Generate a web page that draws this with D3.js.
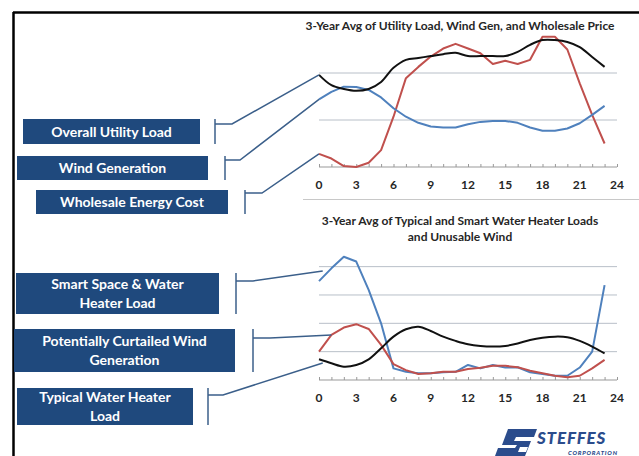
<!DOCTYPE html>
<html>
<head>
<meta charset="utf-8">
<script src="https://cdn.jsdelivr.net/npm/d3@7"></script>
<style>
  body { margin: 0; background: #fff; }
  svg { display: block; font-family: Lato, "Open Sans", sans-serif; }
  .tick-label { font-size: 12px; font-weight: bold; fill: #262626; }
  .title { font-size: 12px; font-weight: bold; fill: #262626; }
  .box-text { font-size: 14px; font-weight: bold; fill: #fff; }
</style>
</head>
<body>
<svg id="chart" width="639" height="456"></svg>
<script>
// hours of the day
const hours = [0,1,2,3,4,5,6,7,8,9,10,11,12,13,14,15,16,17,18,19,20,21,22,23];
const hourTicks = [0,3,6,9,12,15,18,21,24];

// top panel: utility load, wind generation, wholesale price
const utilityLoad = [1.96,1.74,1.66,1.62,1.66,1.81,2.11,2.28,2.32,2.36,2.40,2.43,2.36,2.36,2.36,2.36,2.45,2.60,2.70,2.70,2.66,2.55,2.34,2.13];
const windGen     = [1.44,1.60,1.71,1.70,1.64,1.48,1.25,1.07,0.94,0.86,0.84,0.84,0.91,0.96,0.98,0.98,0.94,0.84,0.77,0.77,0.82,0.93,1.11,1.30];
const wholesale   = [0.28,0.18,0.02,0.00,0.09,0.36,1.07,1.89,2.13,2.35,2.52,2.62,2.52,2.42,2.19,2.26,2.19,2.28,2.77,2.77,2.50,1.78,1.11,0.50];

// bottom panel: water heater loads and curtailed wind
const smartLoad   = [3.49,3.94,4.35,4.18,3.18,2.00,0.41,0.29,0.24,0.24,0.27,0.29,0.53,0.41,0.53,0.44,0.45,0.27,0.21,0.15,0.15,0.44,1.00,3.35];
const curtailed   = [1.00,1.59,1.85,1.97,1.80,1.24,0.56,0.35,0.21,0.24,0.29,0.29,0.39,0.43,0.50,0.50,0.45,0.33,0.24,0.15,0.10,0.15,0.41,0.71];
const typicalLoad = [0.73,0.59,0.47,0.53,0.73,1.12,1.53,1.79,1.88,1.73,1.53,1.38,1.26,1.20,1.18,1.20,1.29,1.41,1.49,1.53,1.51,1.38,1.18,0.94];

const topTitle = ["3-Year Avg of Utility Load, Wind Gen, and Wholesale Price"];
const bottomTitle = ["3-Year Avg of Typical and Smart Water Heater Loads", "and Unusable Wind"];

const topLabels = [["Overall Utility Load"], ["Wind Generation"], ["Wholesale Energy Cost"]];
const bottomLabels = [["Smart  Space & Water", "Heater Load"], ["Potentially Curtailed Wind", "Generation"], ["Typical Water Heater", "Load"]];

const BLACK = "#111", BLUE = "#4f81bd", RED = "#c0504d", NAVY = "#1f497d";

const svg = d3.select("#chart");

// frame
svg.append("line").attr("x1", 13).attr("x2", 639).attr("y1", 12.5).attr("y2", 12.5)
    .attr("stroke", "#000").attr("stroke-width", 2.5);
svg.append("line").attr("x1", 13.5).attr("x2", 13.5).attr("y1", 12).attr("y2", 456)
    .attr("stroke", "#000").attr("stroke-width", 2.5);

function drawPanel(opt) {
    const x = d3.scaleLinear().domain([0, 24]).range([319, 617]);
    const y = d3.scaleLinear().domain([0, opt.max]).range([opt.bottom, opt.top]);
    const g = svg.append("g");

    // gridlines
    g.selectAll(".grid").data(opt.grid).join("line")
        .attr("x1", x(0)).attr("x2", x(24))
        .attr("y1", d => y(d)).attr("y2", d => y(d))
        .attr("stroke", "#b8bfc8").attr("stroke-width", 1);

    // x axis
    const axis = g.append("g")
        .attr("transform", "translate(0," + opt.bottom + ")")
        .call(d3.axisBottom(x).ticks(24).tickSize(-3).tickFormat(""));
    axis.select(".domain").attr("stroke", "#999").attr("d", "M" + x(0) + ",0H" + x(24));
    axis.selectAll(".tick line").attr("stroke", "#999");

    g.selectAll(".tick-label").data(hourTicks).join("text")
        .attr("class", "tick-label")
        .attr("x", d => x(d)).attr("y", opt.bottom + 22)
        .attr("text-anchor", "middle")
        .text(d => d);

    // title
    g.selectAll(".title").data(opt.title).join("text")
        .attr("class", "title")
        .attr("x", 460).attr("y", (d, i) => opt.titleY + i * 16)
        .attr("text-anchor", "middle")
        .text(d => d);

    // series
    opt.series.forEach(s => {
        const line = d3.line()
            .x((d, i) => x(hours[i]))
            .y(d => y(d))
            .curve(s.smooth ? d3.curveCatmullRom.alpha(0.5) : d3.curveLinear);
        g.append("path").datum(s.values)
            .attr("fill", "none").attr("stroke", s.color)
            .attr("stroke-width", 2).attr("stroke-linejoin", "round")
            .attr("d", line);
    });

    // label boxes with bracket leaders
    opt.boxes.forEach((b, i) => {
        g.append("rect")
            .attr("x", b.x).attr("y", b.y).attr("width", b.w).attr("height", b.h)
            .attr("fill", NAVY);
        const lines = opt.labels[i];
        g.selectAll(null).data(lines).join("text")
            .attr("class", "box-text")
            .attr("x", b.x + b.w / 2)
            .attr("y", (d, j) => b.y + b.h / 2 + 5 + (j - (lines.length - 1) / 2) * 19)
            .attr("text-anchor", "middle")
            .text(d => d);

        const end = [x(b.end[0]), y(b.end[1])];
        g.append("line")
            .attr("x1", b.bx).attr("x2", b.bx).attr("y1", b.y).attr("y2", b.y + b.h)
            .attr("stroke", "#3b5f8a").attr("stroke-width", 1.5);
        g.append("path")
            .attr("d", "M" + b.bx + "," + b.hy + "L" + b.kx + "," + b.hy + "L" + end[0] + "," + end[1])
            .attr("fill", "none").attr("stroke", "#3b5f8a").attr("stroke-width", 1.5);
    });
}

drawPanel({
    max: 3, top: 26, bottom: 167, grid: [1, 2], title: topTitle, titleY: 30,
    series: [
        { values: wholesale, color: RED },
        { values: windGen, color: BLUE },
        { values: utilityLoad, color: BLACK, smooth: true }
    ],
    labels: topLabels,
    boxes: [
        { x: 23, y: 119, w: 177, h: 25, bx: 215, hy: 124, kx: 232, end: [0, utilityLoad[0]] },
        { x: 17, y: 156, w: 191, h: 24, bx: 225, hy: 160, kx: 240, end: [0, windGen[0]] },
        { x: 36, y: 190, w: 192, h: 24, bx: 245, hy: 193, kx: 262, end: [0, wholesale[0]] }
    ]
});

// separator between panels
svg.append("line").attr("x1", 303).attr("x2", 639).attr("y1", 199.5).attr("y2", 199.5)
    .attr("stroke", "#c8c8c8").attr("stroke-width", 1.2);

drawPanel({
    max: 5, top: 238.3, bottom: 380, grid: [1, 2, 3, 4], title: bottomTitle, titleY: 225,
    series: [
        { values: smartLoad, color: BLUE },
        { values: curtailed, color: RED },
        { values: typicalLoad, color: BLACK, smooth: true }
    ],
    labels: bottomLabels,
    boxes: [
        { x: 16, y: 273, w: 203, h: 41, bx: 236, hy: 281, kx: 253, end: [0.3, 3.85] },
        { x: 14, y: 329, w: 221, h: 43, bx: 253, hy: 338, kx: 270, end: [1, 1.59] },
        { x: 17, y: 388, w: 176, h: 37, bx: 208, hy: 395, kx: 223, end: [0.3, 0.6] }
    ]
});

// logo
const logo = svg.append("g");
logo.append("path")
    .attr("d", "M508,429 L537,429 L534,437 L516,437 L514,441 L531,441 L525,456 L495,456 L498,448 L515,448 L517,445 L502,445 Z")
    .attr("fill", "#2b4c8c");
logo.append("path")
    .attr("d", "M520,447 L528,447 L526,452 L518,452 Z")
    .attr("fill", "#fff");
logo.append("text")
    .attr("x", 537).attr("y", 444)
    .attr("font-size", 17).attr("font-weight", 900).attr("font-style", "italic")
    .attr("letter-spacing", 0.8)
    .attr("fill", "#2b4c8c")
    .text("STEFFES");
logo.append("text")
    .attr("x", 568).attr("y", 455)
    .attr("font-size", 6).attr("font-weight", 900).attr("font-style", "italic")
    .attr("letter-spacing", 0.8)
    .attr("fill", "#2b4c8c")
    .text("CORPORATION");
</script>
</body>
</html>
